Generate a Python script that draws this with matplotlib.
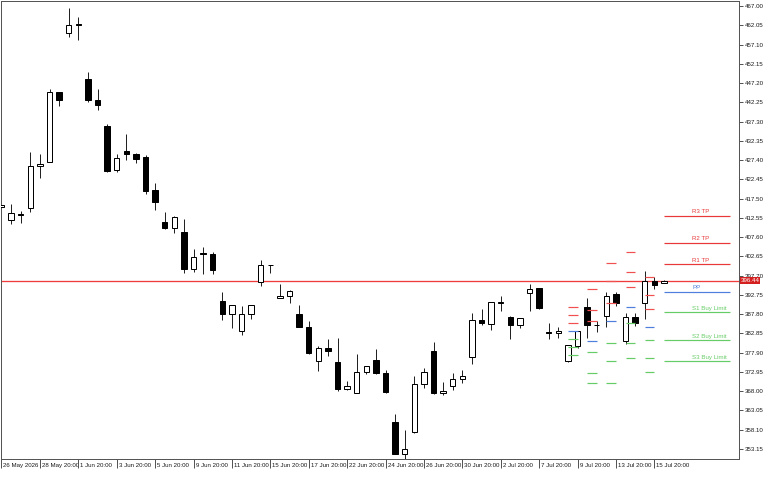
import matplotlib
matplotlib.use('Agg')
import matplotlib.pyplot as plt
import matplotlib.transforms as mtransforms
from matplotlib import font_manager

# ---------------- data ----------------
opens = [415.27, 412.08, 413.62, 415.16, 425.96, 426.99, 444.82, 459.98, 462.25, 448.32,
         442.84, 436.08, 424.85, 429.81, 428.96, 428.27, 419.63, 411.41, 409.87, 409.00,
         399.33, 403.52, 403.26, 391.26, 387.84, 383.40, 387.84, 395.99, 400.43, 392.03,
         392.47, 387.84, 384.58, 375.84, 379.11, 375.51, 368.49, 367.62, 372.86, 376.02,
         372.76, 360.01, 351.94, 357.44, 369.78, 378.35, 367.46, 369.42, 371.14, 376.87,
         386.30, 385.19, 390.77, 387.15, 384.94, 393.16, 394.45, 383.27, 382.88, 375.84,
         379.62, 389.57, 385.09, 387.33, 392.98, 380.98, 386.99, 390.59, 396.25, 395.89]
highs = [415.99, 416.04, 414.24, 429.56, 429.04, 445.75, 444.95, 466.49, 464.25, 449.96,
         445.67, 436.60, 428.89, 434.10, 429.14, 428.71, 421.43, 413.98, 413.03, 412.18,
         404.55, 405.14, 403.70, 393.57, 390.16, 389.97, 390.16, 401.72, 400.51, 395.63,
         393.93, 390.23, 386.04, 379.70, 381.50, 381.75, 370.70, 377.49, 374.48, 378.93,
         373.53, 362.22, 358.03, 371.91, 373.89, 380.57, 370.45, 372.68, 373.45, 388.02,
         389.05, 390.93, 392.47, 387.25, 386.82, 395.55, 394.53, 385.45, 384.58, 379.88,
         383.55, 391.88, 386.04, 393.42, 393.57, 388.18, 388.02, 398.97, 397.27, 396.50]
lows = [415.09, 410.97, 411.31, 414.13, 422.87, 426.78, 441.30, 459.11, 458.26, 442.33,
        440.35, 424.26, 424.34, 427.42, 426.57, 418.68, 414.57, 409.79, 408.58, 398.46,
        398.71, 398.05, 398.12, 386.30, 384.17, 382.37, 386.63, 395.12, 398.30, 391.88,
        390.75, 384.42, 377.56, 373.27, 377.12, 368.13, 368.36, 367.54, 372.35, 372.35,
        367.67, 351.74, 350.40, 357.39, 368.75, 367.41, 366.95, 368.23, 370.03, 374.99,
        384.94, 383.73, 388.69, 381.34, 384.25, 388.61, 389.23, 381.34, 381.80, 375.51,
        379.18, 381.60, 383.29, 384.42, 389.90, 380.06, 384.76, 386.48, 394.19, 395.89]
closes = [415.78, 413.72, 413.36, 425.96, 426.32, 444.82, 442.92, 462.12, 462.07, 442.76,
          441.63, 424.67, 428.01, 428.89, 427.75, 419.53, 416.55, 409.87, 412.85, 399.41,
          402.41, 403.37, 399.23, 387.77, 390.08, 387.77, 390.08, 400.36, 400.36, 392.39,
          393.83, 384.58, 377.74, 379.03, 378.26, 368.57, 369.34, 372.86, 374.40, 372.60,
          367.87, 351.94, 353.07, 369.78, 372.86, 367.46, 367.98, 371.06, 371.99, 386.30,
          385.61, 390.85, 390.85, 384.94, 386.74, 394.27, 389.31, 383.06, 383.55, 379.80,
          383.47, 384.94, 384.94, 392.55, 390.75, 386.99, 385.61, 396.25, 395.22, 396.44]

current_price = 396.44

# time-axis labels (bar index -> label)
xtick_idx = [0, 4, 8, 12, 16, 20, 24, 28, 32, 36, 40, 44, 48, 52, 56, 60, 64, 68]
xtick_labels = ['26 May 2026', '28 May 20:00', '1 Jun 20:00', '3 Jun 20:00', '5 Jun 20:00',
                '9 Jun 20:00', '11 Jun 20:00', '15 Jun 20:00', '17 Jun 20:00',
                '22 Jun 20:00', '24 Jun 20:00', '26 Jun 20:00', '30 Jun 20:00',
                '2 Jul 20:00', '7 Jul 20:00', '9 Jul 20:00', '13 Jul 20:00', '15 Jul 20:00']

# price-axis labels
ytick_vals = [353.15, 358.10, 363.05, 368.00, 372.95, 377.90, 382.85, 387.80, 392.75,
              397.70, 402.65, 407.60, 412.55, 417.50, 422.45, 427.40, 432.35, 437.30,
              442.25, 447.20, 452.15, 457.10, 462.05, 467.00]

# daily pivot levels of previous days (drawn over the 2 bars of each day)
piv_start = [59, 61, 63, 65, 67]
piv_r3 = [389.67, 394.21, 400.96, 403.89, 397.30]
piv_r2 = [387.56, 388.88, 396.42, 398.73, 392.74]
piv_r1 = [385.56, 386.17, 390.68, 394.74, 389.18]
piv_pp = [383.45, 380.84, 386.14, 389.58, 384.62]
piv_s1 = [381.45, 378.13, 380.40, 385.59, 381.06]
piv_s2 = [379.34, 372.80, 375.86, 380.43, 376.50]
piv_s3 = [377.34, 370.09, 370.12, 376.44, 372.94]

# current day's levels
cur_names = ['R3 TP', 'R2 TP', 'R1 TP', 'PP', 'S1 Buy Limit', 'S2 Buy Limit', 'S3 Buy Limit']
cur_levels = [413.13, 406.05, 400.64, 393.56, 388.27, 381.07, 375.66]

# ---------------- style ----------------
names = {f.name for f in font_manager.fontManager.ttflist}
fam = 'Liberation Sans Narrow' if 'Liberation Sans Narrow' in names else 'Liberation Sans'
plt.rcParams['font.family'] = [fam, 'DejaVu Sans']
FS = 5.0 if fam == 'Liberation Sans Narrow' else 4.4

RED = '#e8383a'
RED_LINE = '#f03c3c'
RED_D = '#f05050'
BLUE = '#4f7fdc'
GREEN = '#66cc66'
TXT = '#1a1a1a'
FRAME = '#555555'

W, Hpx = 768, 480
fig = plt.figure(figsize=(W / 100, Hpx / 100), dpi=100)
ax = fig.add_axes([1 / W, 1 - 459 / Hpx, 738 / W, 458 / Hpx])

XL = (-0.052, 76.82)
ax.set_xlim(*XL)
ax.set_ylim(350.58, 468.285)

# ---------------- candles ----------------
n = len(opens)
idx = list(range(n))
px = 1 / 100 * 72  # one pixel in points
ax.vlines(idx, lows, highs, color='#222222', lw=px, zorder=2)
bull = [i for i in idx if closes[i] >= opens[i]]
bear = [i for i in idx if closes[i] < opens[i]]
ax.bar(bull, [max(closes[i] - opens[i], 0.05) for i in bull],
       bottom=[opens[i] for i in bull], width=0.56,
       facecolor='white', edgecolor='black', lw=px, zorder=3)
ax.bar(bear, [max(opens[i] - closes[i], 0.05) for i in bear],
       bottom=[closes[i] for i in bear], width=0.56,
       facecolor='black', edgecolor='black', lw=px, zorder=3)

# ---------------- pivots (history) ----------------
for k, s in enumerate(piv_start):
    for lv, c in ((piv_r3, RED_D), (piv_r2, RED_D), (piv_r1, RED_D), (piv_pp, BLUE),
                  (piv_s1, GREEN), (piv_s2, GREEN), (piv_s3, GREEN)):
        ax.hlines(lv[k], s, s + 1, color=c, lw=1.2 * px, zorder=4)

# ---------------- pivots (current) ----------------
cur_cols = [RED, RED, RED, BLUE, GREEN, GREEN, GREEN]
x0 = n - 1
x1 = 75.9
for name, lv, c in zip(cur_names, cur_levels, cur_cols):
    ax.hlines(lv, x0, x1, color=c, lw=1.2 * px, zorder=4)
    ax.annotate(name, xy=(71.93, lv), xytext=(0, 1.2), textcoords='offset points',
                ha='left', va='bottom', fontsize=FS, color=c, zorder=5)

# current price line
ax.hlines(current_price, XL[0], XL[1], color=RED_LINE, lw=1.3 * px, zorder=1.5)

# ---------------- axes ----------------
for sp in ax.spines.values():
    sp.set_color(FRAME)
    sp.set_linewidth(px)

ax.yaxis.tick_right()
ax.set_yticks(ytick_vals)
ax.set_yticklabels(['%.2f' % v for v in ytick_vals])
ax.tick_params(axis='y', direction='out', length=4 * px, width=px, color=FRAME,
               labelsize=FS, labelcolor=TXT, pad=2 * px)

ax.set_xticks(xtick_idx)
ax.set_xticklabels(xtick_labels)
ax.tick_params(axis='x', direction='out', length=9 * px, width=px, color=FRAME,
               labelsize=FS, labelcolor=TXT, pad=-5 * px)
offs = mtransforms.ScaledTranslation(2 / 100, 0, fig.dpi_scale_trans)
for lab in ax.get_xticklabels():
    lab.set_horizontalalignment('left')
    lab.set_transform(lab.get_transform() + offs)

# price label box
tr = mtransforms.blended_transform_factory(ax.transAxes, ax.transData)
ax.text(1.0 + 1.5 / 738, current_price, '%.2f' % current_price, transform=tr,
        ha='left', va='center', fontsize=FS, color='white', zorder=6,
        bbox=dict(boxstyle='square,pad=0.15', facecolor='#d41f1f', edgecolor='none'),
        clip_on=False)

fig.savefig('out.png', dpi=100, facecolor='white')
